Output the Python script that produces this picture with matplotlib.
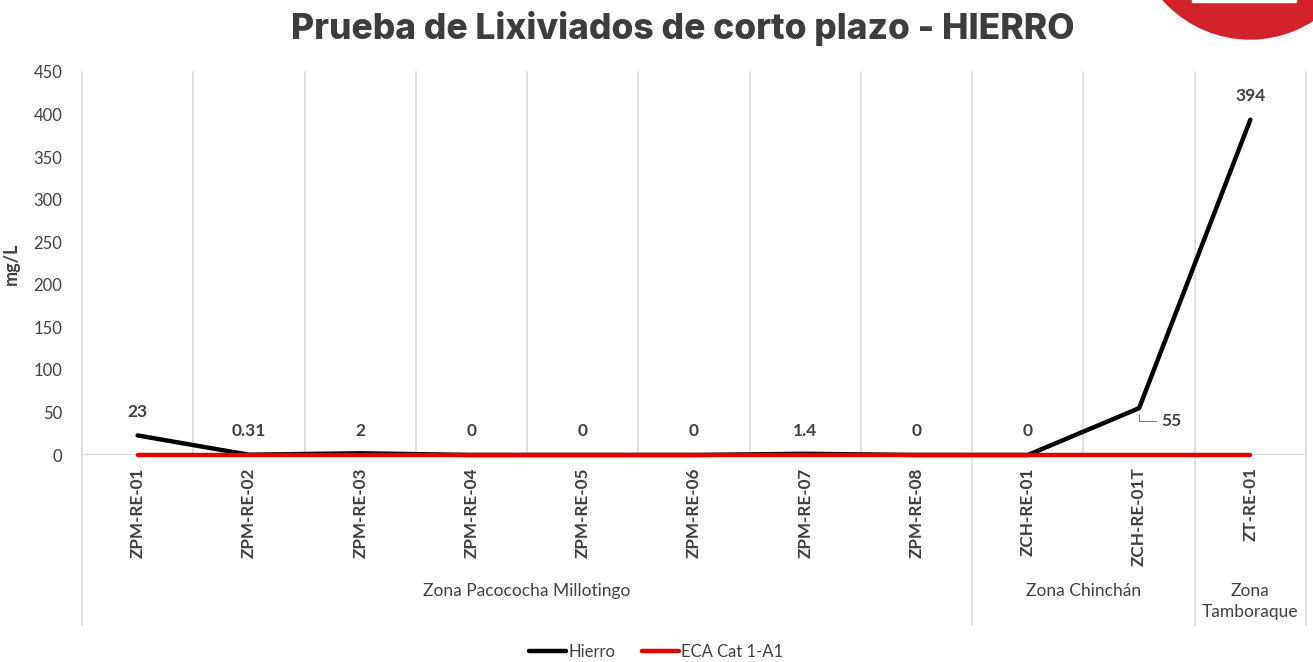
import matplotlib
matplotlib.use('Agg')
import matplotlib.pyplot as plt
from matplotlib.patches import Circle, Rectangle
import matplotlib.transforms as mtrans

# data
estaciones = ['ZPM-RE-01', 'ZPM-RE-02', 'ZPM-RE-03', 'ZPM-RE-04', 'ZPM-RE-05',
              'ZPM-RE-06', 'ZPM-RE-07', 'ZPM-RE-08', 'ZCH-RE-01', 'ZCH-RE-01T',
              'ZT-RE-01']
hierro = [23, 0.31, 2, 0, 0, 0, 1.4, 0, 0, 55, 394]
etiquetas = ['23', '0.31', '2', '0', '0', '0', '1.4', '0', '0', '55', '394']
eca = [0.3] * len(estaciones)
zonas = ['Zona Pacococha Millotingo', 'Zona Chinchán', 'Zona\nTamboraque']
zona_inicio = [0, 8, 10]
zona_fin = [7, 9, 10]

FONT = 'Lato'
GRIS = '#d9d9d9'
TXT = '#404040'

W, H = 1313, 662
fig = plt.figure(figsize=(W / 100, H / 100), dpi=100)
ax = fig.add_axes([82 / W, 1 - 455 / H, (1306 - 82) / W, (455 - 72) / H])

x = list(range(len(estaciones)))
ax.plot(x, hierro, color='black', lw=3.2, solid_capstyle='round', label='Hierro',
        zorder=4, clip_on=False)
ax.plot(x, eca, color='#e00000', lw=3.2, solid_capstyle='round', label='ECA Cat 1-A1',
        zorder=5, clip_on=False)

ax.set_xlim(-0.5, len(estaciones) - 0.5)
ax.set_ylim(0, 450)
ax.set_yticks(range(0, 451, 50))
ax.tick_params(axis='y', length=0, pad=14, labelsize=12, labelcolor=TXT)
for t in ax.get_yticklabels():
    t.set_fontfamily(FONT)
ax.set_xticks([])
for s in ax.spines.values():
    s.set_visible(False)
ax.set_ylabel('mg/L', fontfamily=FONT, fontsize=13, fontweight='bold', color=TXT, labelpad=10)

# grid lines
trans = mtrans.blended_transform_factory(ax.transData, ax.transAxes)
low = -(625 - 455) / (455 - 72)
ax.axhline(0, color=GRIS, lw=1.2, zorder=1)
bordes_zona = [zona_inicio[0] - 0.5] + [f + 0.5 for f in zona_fin]
for i in range(len(estaciones) + 1):
    b = i - 0.5
    if b in bordes_zona:
        ax.plot([b, b], [low, 1], color=GRIS, lw=1.2, transform=trans, clip_on=False, zorder=1)
    else:
        ax.plot([b, b], [0, 1], color=GRIS, lw=1.2, transform=trans, clip_on=False, zorder=1)

# category labels
for xi, name in zip(x, estaciones):
    ax.text(xi, -0.032, name, transform=trans, rotation=90, ha='center', va='top',
            fontfamily=FONT, fontsize=12.3, fontweight='bold', color=TXT)

# zone labels
for z, a, b in zip(zonas, zona_inicio, zona_fin):
    ax.text((a + b) / 2, -0.335, z, transform=trans, ha='center', va='top',
            fontfamily=FONT, fontsize=12.5, color=TXT, linespacing=1.35)

# data labels
for xi, v, lab in zip(x, hierro, etiquetas):
    if lab == '55':
        ax.annotate(lab, (xi, v), xytext=(16, -9), textcoords='offset points',
                    ha='left', va='center', fontfamily=FONT, fontsize=12.5,
                    fontweight='bold', color=TXT,
                    arrowprops=dict(arrowstyle='-', color='#808080', lw=0.8,
                                    shrinkA=2, shrinkB=4,
                                    connectionstyle='angle,angleA=0,angleB=90,rad=0'))
    elif v < 15:
        ax.annotate(lab, (xi, 0), xytext=(0, 17), textcoords='offset points',
                    ha='center', va='center', fontfamily=FONT, fontsize=12.5,
                    fontweight='bold', color=TXT)
    else:
        ax.annotate(lab, (xi, v), xytext=(0, 17), textcoords='offset points',
                    ha='center', va='center', fontfamily=FONT, fontsize=12.5,
                    fontweight='bold', color=TXT)

# legend
leg = fig.legend(loc='center', bbox_to_anchor=(0.5, 1 - 652 / H), ncol=2, frameon=False,
                 prop={'family': FONT, 'size': 12}, handlelength=2.2, columnspacing=1.6,
                 handletextpad=0.15)
for t in leg.get_texts():
    t.set_color(TXT)

# title
fig.text(683 / W, 1 - 29 / H, 'Prueba de Lixiviados de corto plazo - HIERRO', ha='center',
         va='center', fontfamily='Inter', fontsize=25.5, fontweight='heavy', color='#3d3d3d')

# logo fragment top right
ident = mtrans.IdentityTransform()
fig.patches.append(Circle((1250, H + 77), 116, transform=ident, color='#d3222a', zorder=0))
fig.patches.append(Rectangle((1192, H - 2), 104, 10, transform=ident, color='white', zorder=1))

fig.savefig('out.png', dpi=100)
